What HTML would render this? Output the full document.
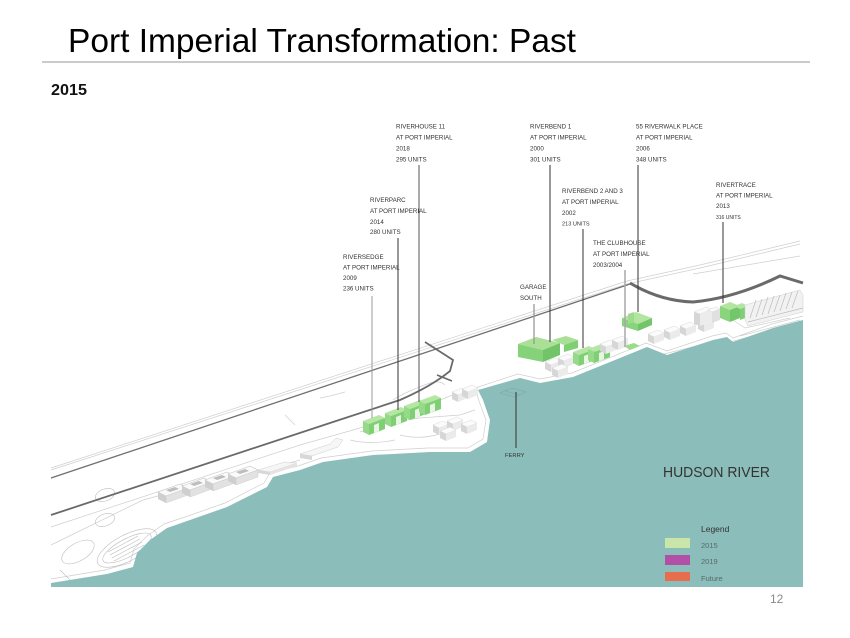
<!DOCTYPE html>
<html><head><meta charset="utf-8"><style>
html,body{margin:0;padding:0;background:#fff;}
svg{display:block;}
.lb{font-family:"Liberation Sans",sans-serif;font-size:6.2px;fill:#333;}
</style></head><body>
<svg width="850" height="638" viewBox="0 0 850 638" xmlns="http://www.w3.org/2000/svg">
<defs>
 <g id="ub">
  <polygon points="0,0 22,-8 30,-4 8,4" fill="#fafafa" stroke="#c8c8c8" stroke-width="0.6"/>
  <polygon points="0,0 8,4 8,11 0,7" fill="#cfcfcf"/>
  <polygon points="8,4 30,-4 30,3 8,11" fill="#e2e2e2" stroke="#c8c8c8" stroke-width="0.4"/>
  <polygon points="8,-2 17,-5 21,-3 12,0" fill="#bdbdbd"/>
 </g>
 <g id="gn">
  <polygon points="0,0 16,-6 22,-3 6,3" fill="#b6e6a3"/>
  <polygon points="0,0 6,3 6,14 0,11" fill="#96d98b"/>
  <polygon points="6,3 22,-3 22,8 6,14" fill="#7fcf74"/>
  <polygon points="11,4 16,2 16,10 11,12" fill="#e8f5e3"/>
 </g>
 <g id="wb">
  <polygon points="0,0 10,-4 16,-1 6,3" fill="#fbfbfb" stroke="#cfcfcf" stroke-width="0.4"/>
  <polygon points="0,0 6,3 6,10 0,7" fill="#d6d6d6"/>
  <polygon points="6,3 16,-1 16,6 6,10" fill="#ebebeb"/>
 </g>
</defs>

<!-- Title -->
<text x="68" y="52" font-family="'Liberation Sans Narrow','Liberation Sans',sans-serif" font-size="33" fill="#000" textLength="508" lengthAdjust="spacingAndGlyphs">Port Imperial Transformation: Past</text>
<rect x="42" y="61" width="768" height="2" fill="#cbcbcb"/>
<text x="51" y="95" font-family="'Liberation Sans Narrow','Liberation Sans',sans-serif" font-size="16" font-weight="bold" fill="#111" textLength="36" lengthAdjust="spacingAndGlyphs">2015</text>

<!-- land sketch lines -->
<g fill="none" stroke="#cfcfcf" stroke-width="0.7">
 <polyline points="51,470 627,284 700,268 800,244"/>
 <polyline points="51,468 627,281 700,265 800,241"/>
 <polyline points="693,274 800,256"/>
 <polyline points="51,527 300,445 360,428 440,400 470,388"/>
 <polyline points="51,545 143,500 180,490 265,470 300,460"/>
 <polyline points="51,579 105,570 130,563 134,549 147,536 164,524 188,516 225,503 264,483 270,473 298,466 321,458 372,451 428,448 468,448 483,439 486,420 479,401 475,388 518,374 540,379 572,373 646,343 667,351 712,336 726,333 733,338 772,324 803,316"/>
 <polyline points="360,432 380,424 420,418 460,415 475,410"/>
 <path d="M393,400 Q405,392 430,383 Q440,380 445,385"/>
 <path d="M350,440 Q370,445 395,440"/>
 <path d="M400,435 Q420,440 440,434"/>
 <polyline points="320,398 330,396 345,392"/>
 <polyline points="285,415 295,425"/>
 <polyline points="612,370 640,360 700,345 730,342 760,334 803,322"/>
 <polyline points="730,318 745,328 790,318"/>
 <polyline points="740,336 800,320"/>
</g>

<!-- stadium sketch -->
<g fill="none" stroke="#bdbdbd" stroke-width="0.6">
 <ellipse cx="127" cy="548" rx="33" ry="13" transform="rotate(-28 127 548)"/>
 <ellipse cx="127" cy="548" rx="27" ry="9" transform="rotate(-28 127 548)"/>
 <line x1="110" y1="555" x2="140" y2="539"/><line x1="112" y1="558" x2="142" y2="542"/>
 <line x1="108" y1="552" x2="138" y2="536"/><line x1="114" y1="561" x2="144" y2="545"/>
 <ellipse cx="78" cy="552" rx="18" ry="9" transform="rotate(-30 78 552)"/>
 <ellipse cx="105" cy="495" rx="10" ry="6" transform="rotate(-20 105 495)"/>
 <ellipse cx="105" cy="520" rx="10" ry="6" transform="rotate(-20 105 520)"/>
 <polyline points="60,570 75,585 120,585 160,575"/>
</g>

<!-- Water -->
<polygon fill="#8bbdba" points="51,587 51,583 107,574 133,567 137,553 150,540 167,528 190,520 227,507 267,487 273,477 300,470 323,462 373,455 430,452 470,452 487,442 490,420 483,400 478,390 520,378 540,383 573,377 647,347 667,355 713,340 727,337 733,342 773,328 803,320 803,587"/>

<!-- roads -->
<polyline points="51,478 630,284" fill="none" stroke="#6f6f6f" stroke-width="1.3"/>
<path d="M51,515 L333,422 L400,400 Q432,386 450,371 L453,360 L425,342" fill="none" stroke="#6a6a6a" stroke-width="1.8"/>
<line x1="437" y1="375" x2="452" y2="381" stroke="#6a6a6a" stroke-width="1.5"/>
<path d="M630,283 Q660,301 693,302 Q735,298 780,276 L803,283" fill="none" stroke="#6a6a6a" stroke-width="3"/>

<!-- ferry terminal sketch -->
<g fill="none" stroke="#7fa9a6" stroke-width="0.6">
 <polygon points="500,393 512,388 526,392 514,397"/>
 <line x1="505" y1="391" x2="520" y2="395"/>
</g>

<!-- left white buildings -->
<use href="#ub" x="158" y="492"/>
<use href="#ub" x="182" y="486"/>
<use href="#ub" x="205" y="480"/>
<use href="#ub" x="228" y="474"/>
<polygon points="258,470 285,462 297,463 270,472" fill="#f6f6f6" stroke="#cfcfcf" stroke-width="0.5"/>
<polygon points="258,470 270,472 270,475 258,473" fill="#d8d8d8"/>
<polygon points="270,472 297,463 297,466 270,475" fill="#e4e4e4"/>
<polygon points="300,454 330,444 336,438 343,440 338,447 312,456" fill="#f6f6f6" stroke="#cfcfcf" stroke-width="0.5"/>
<polygon points="300,454 312,456 312,460 300,458" fill="#d8d8d8"/>

<!-- middle white buildings -->
<use href="#wb" x="452" y="392" transform="translate(0,0)"/>
<use href="#wb" x="462" y="389"/>
<use href="#wb" x="433" y="425"/>
<use href="#wb" x="447" y="421"/>
<use href="#wb" x="461" y="424"/>
<use href="#wb" x="440" y="431"/>

<!-- green comb (Riversedge etc.) -->
<use href="#gn" x="363" y="421"/>
<use href="#gn" x="385" y="413"/>
<use href="#gn" x="404" y="406"/>
<use href="#gn" x="419" y="401"/>

<!-- Garage south -->
<polygon points="518,344 536,337 560,343 543,350" fill="#a9e096"/>
<polygon points="518,344 543,350 543,362 518,357" fill="#86d27a"/>
<polygon points="543,350 560,343 560,355 543,362" fill="#72c468"/>
<polygon points="552,340 566,336 578,340 564,345" fill="#a9e096"/>
<polygon points="564,345 578,340 578,348 564,352" fill="#7fcf74"/>
<use href="#wb" x="545" y="362"/>
<use href="#wb" x="558" y="358"/>
<use href="#wb" x="552" y="368"/>
<use href="#gn" x="573" y="352" transform="translate(0,0)"/>
<use href="#gn" x="588" y="349"/>
<use href="#wb" x="600" y="344"/>
<use href="#wb" x="612" y="340"/>
<polygon points="624,346 634,343 640,346 630,350" fill="#9bdc8c"/>

<!-- Clubhouse -->
<polygon points="622,318 636,312 652,318 638,324" fill="#b2e5a0"/>
<polygon points="622,318 638,324 638,331 622,326" fill="#88d37c"/>
<polygon points="638,324 652,318 652,325 638,331" fill="#73c56a"/>
<polygon points="628,314 634,312 634,322 628,324" fill="#9ddc8f"/>

<!-- white sculpted buildings -->
<use href="#wb" x="648" y="334"/>
<use href="#wb" x="664" y="330"/>
<use href="#wb" x="680" y="326"/>
<use href="#wb" x="698" y="322"/>
<polygon points="694,312 706,307 712,309 700,314" fill="#fafafa" stroke="#cfcfcf" stroke-width="0.4"/>
<polygon points="694,312 700,314 700,326 694,324" fill="#d6d6d6"/>
<polygon points="700,314 712,309 712,321 700,326" fill="#ececec"/>
<polygon points="708,310 716,307 720,309 712,312" fill="#fafafa" stroke="#cfcfcf" stroke-width="0.4"/>
<polygon points="712,312 720,309 720,320 712,323" fill="#e0e0e0"/>

<!-- Rivertrace -->
<polygon points="720,306 730,302 740,306 730,310" fill="#b2e5a0"/>
<polygon points="720,306 730,310 730,322 720,318" fill="#8ad47e"/>
<polygon points="730,310 740,306 740,318 730,322" fill="#74c66b"/>
<polygon points="734,306 742,303 748,306 740,309" fill="#b2e5a0"/>
<polygon points="740,309 748,306 748,317 740,320" fill="#7fcf74"/>

<!-- ribbed white buildings right -->
<polygon points="745,305 800,290 803,295 803,312 748,326 745,320" fill="#f2f2f2" stroke="#cfcfcf" stroke-width="0.5"/>
<g stroke="#bcbcbc" stroke-width="0.7">
 <line x1="750" y1="318" x2="756" y2="300"/><line x1="756" y1="317" x2="762" y2="299"/>
 <line x1="762" y1="315" x2="768" y2="297"/><line x1="768" y1="314" x2="774" y2="296"/>
 <line x1="774" y1="312" x2="780" y2="295"/><line x1="780" y1="311" x2="786" y2="293"/>
 <line x1="786" y1="309" x2="792" y2="292"/><line x1="792" y1="308" x2="798" y2="291"/>
 <line x1="748" y1="322" x2="803" y2="308"/>
</g>

<!-- Leader lines -->
<g stroke-width="1">
 <line x1="372" y1="296" x2="372" y2="418" stroke="#9a9a9a"/>
 <line x1="398" y1="238" x2="398" y2="410" stroke="#333"/>
 <line x1="419" y1="165" x2="419" y2="402" stroke="#555"/>
 <line x1="550" y1="165" x2="550" y2="342" stroke="#333"/>
 <line x1="638" y1="165" x2="638" y2="312" stroke="#333"/>
 <line x1="583" y1="229" x2="583" y2="348" stroke="#333"/>
 <line x1="625" y1="270" x2="625" y2="347" stroke="#a8a8a8" stroke-width="1.5"/>
 <line x1="723" y1="222" x2="723" y2="303" stroke="#333"/>
 <line x1="534" y1="304" x2="534" y2="344" stroke="#999" stroke-width="1.3"/>
 <line x1="516" y1="392" x2="516" y2="448" stroke="#333"/>
</g>

<!-- Labels -->
<g class="lb">
 <text x="396" y="128.5">RIVERHOUSE 11</text>
 <text x="396" y="139.5">AT PORT IMPERIAL</text>
 <text x="396" y="150.5">2018</text>
 <text x="396" y="161.5">295 UNITS</text>

 <text x="370" y="202">RIVERPARC</text>
 <text x="370" y="213">AT PORT IMPERIAL</text>
 <text x="370" y="224">2014</text>
 <text x="370" y="234">280 UNITS</text>

 <text x="343" y="259">RIVERSEDGE</text>
 <text x="343" y="269.5">AT PORT IMPERIAL</text>
 <text x="343" y="280">2009</text>
 <text x="343" y="290.5">236 UNITS</text>

 <text x="530" y="128.5">RIVERBEND 1</text>
 <text x="530" y="139.5">AT PORT IMPERIAL</text>
 <text x="530" y="150.5">2000</text>
 <text x="530" y="161.5">301 UNITS</text>

 <text x="636" y="128.5">55 RIVERWALK PLACE</text>
 <text x="636" y="139.5">AT PORT IMPERIAL</text>
 <text x="636" y="150.5">2006</text>
 <text x="636" y="161.5">348 UNITS</text>

 <text x="562" y="193">RIVERBEND 2 AND 3</text>
 <text x="562" y="204">AT PORT IMPERIAL</text>
 <text x="562" y="215">2002</text>
 <text x="562" y="225.5" font-size="5.6">213 UNITS</text>

 <text x="716" y="187">RIVERTRACE</text>
 <text x="716" y="197.5">AT PORT IMPERIAL</text>
 <text x="716" y="208">2013</text>
 <text x="716" y="219" font-size="5">316 UNITS</text>

 <text x="593" y="245">THE CLUBHOUSE</text>
 <text x="593" y="256">AT PORT IMPERIAL</text>
 <text x="593" y="267">2003/2004</text>

 <text x="520" y="289">GARAGE</text>
 <text x="520" y="300">SOUTH</text>

 <text x="505" y="457" font-size="5.8">FERRY</text>
</g>

<!-- Hudson River -->
<text x="663" y="477" font-family="'Liberation Sans',sans-serif" font-size="15" fill="#333" textLength="107" lengthAdjust="spacingAndGlyphs">HUDSON RIVER</text>

<!-- Legend -->
<text x="701" y="532" font-family="'Liberation Sans',sans-serif" font-size="8.5" fill="#333">Legend</text>
<rect x="665" y="538" width="25" height="10" fill="#c9e5a9"/>
<rect x="665" y="555" width="25" height="10" fill="#b24fa6"/>
<rect x="665" y="572" width="25" height="9" fill="#e66e4e"/>
<g font-family="'Liberation Sans',sans-serif" font-size="7.5" fill="#5a6a68">
 <text x="701" y="548">2015</text>
 <text x="701" y="564">2019</text>
 <text x="701" y="581">Future</text>
</g>

<!-- page number -->
<text x="770" y="603" font-family="'Liberation Sans',sans-serif" font-size="12" fill="#8a8a8a">12</text>
</svg>
</body></html>
